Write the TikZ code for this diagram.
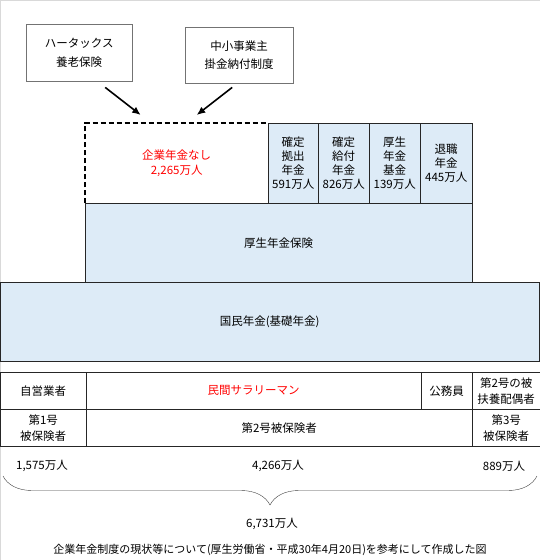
\documentclass[tikz,border=0pt]{standalone}
\usepackage{fontspec}
\newfontfamily\jpfont{Noto Sans CJK JP}
\usetikzlibrary{arrows.meta,decorations.pathreplacing}
\definecolor{paleblue}{HTML}{DDEBF7}

\begin{document}
\begin{tikzpicture}[x=1pt, y=-1pt, >={Latex[length=3mm, width=2.6mm]},
	every node/.style={font=\jpfont\fontsize{11.5}{13.8}\selectfont, align=center, inner sep=0pt},
	cell/.style={draw=black!85, fill=paleblue, anchor=north west},
	row/.style={draw=black!85, anchor=north west, minimum height=37pt, font=\jpfont\fontsize{11.5}{16}\selectfont},
	note/.style={draw=black!55, anchor=north west, font=\jpfont\fontsize{11.5}{18.5}\selectfont}]
	\useasboundingbox (0,0) rectangle (540,560);
	\draw[gray!30] (0.5,560) -- (0.5,0.5) -- (540,0.5);
	% schemes without a company pension
	\node[note, minimum width=106pt, minimum height=57pt] (hata) at (26,24) {ハータックス\\養老保険};
	\node[note, minimum width=108pt, minimum height=56pt] (chusho) at (185,27) {中小事業主\\掛金納付制度};
	\node[anchor=north west, minimum width=183pt, minimum height=80pt, text=red, font=\jpfont\fontsize{11.5}{15}\selectfont] (none) at (85,123) {企業年金なし\\2,265万人};
	\draw[line width=1.8pt, dash pattern=on 5pt off 3pt] (none.south west) -- (none.north west) -- (none.north east);
	\draw[->, line width=1.6pt] ([xshift=26pt, yshift=-6pt]hata.south) -- ([xshift=-36pt, yshift=8pt]none.north);
	\draw[->, line width=1.6pt] ([xshift=-7pt, yshift=-4pt]chusho.south) -- ([xshift=20pt, yshift=8pt]none.north);
	% company pensions
	\node[cell, minimum width=50pt, minimum height=80pt] (dc) at (268,123) {確定\\拠出\\年金\\591万人};
	\node[cell, minimum width=51pt, minimum height=80pt] (db) at (318,123) {確定\\給付\\年金\\826万人};
	\node[cell, minimum width=51pt, minimum height=80pt] (kikin) at (369,123) {厚生\\年金\\基金\\139万人};
	\node[cell, minimum width=52pt, minimum height=80pt] (taishoku) at (420,123) {退職\\年金\\445万人};
	\node[cell, minimum width=387pt, minimum height=79pt] (kosei) at (85,203) {厚生年金保険};
	\node[cell, minimum width=539pt, minimum height=79pt] (kokumin) at (0,282) {国民年金(基礎年金)};
	% insured persons
	\node[row, minimum width=86pt] (jiei) at (0,372) {自営業者};
	\node[row, minimum width=335pt, text=red] (sarary) at (86,372) {民間サラリーマン};
	\node[row, minimum width=51pt] (komuin) at (421,372) {公務員};
	\node[row, minimum width=68pt] (fuyo) at (472,372) {第2号の被\\扶養配偶者};
	\node[row, minimum width=86pt] (dai1) at (0,409) {第1号\\被保険者};
	\node[row, minimum width=386pt] (dai2) at (86,409) {第2号被保険者};
	\node[row, minimum width=68pt] (dai3) at (472,409) {第3号\\被保険者};
	\node (n1) at (42,466) {1,575万人};
	\node (n2) at (278,466) {4,266万人};
	\node (n3) at (504,466) {889万人};
	\draw[black!75, decorate, decoration={brace, mirror, amplitude=29pt}] (3,476) -- (537,476);
	\node (total) at (272,524) {6,731万人};
	\node[font=\jpfont\fontsize{11}{13}\selectfont] (source) at (270,550) {企業年金制度の現状等について(厚生労働省・平成30年4月20日)を参考にして作成した図};
\end{tikzpicture}
\end{document}
